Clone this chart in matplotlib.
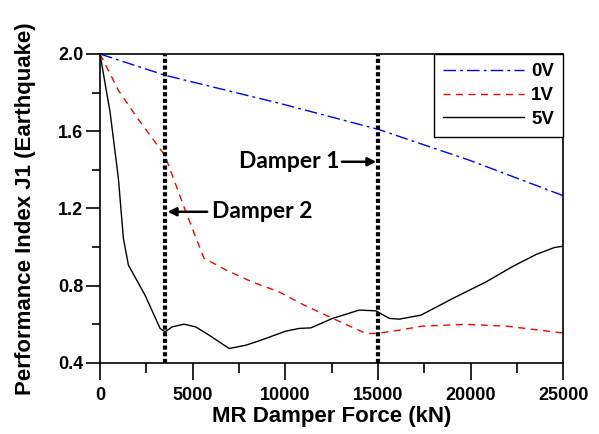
import matplotlib
matplotlib.use('Agg')
from matplotlib import pyplot as plt

plt.rcParams['font.family'] = ['Liberation Sans', 'DejaVu Sans']
plt.rcParams['font.weight'] = 'bold'

# values
x_0v = [0, 3500, 9665, 15000, 19925, 25000]
y_0v = [2.0, 1.89, 1.745, 1.61, 1.45, 1.266]

x_1v = [0, 1000, 2000, 3500, 4600, 5600, 6800, 8200, 9665, 11000, 12545,
        14345, 14900, 16145, 17390, 19760, 22000, 25000]
y_1v = [2.0, 1.81, 1.67, 1.475, 1.19, 0.943, 0.881, 0.82, 0.768, 0.70, 0.631,
        0.553, 0.553, 0.570, 0.591, 0.600, 0.59, 0.555]

x_5v = [0, 250, 540, 990, 1260, 1530, 2430, 3240, 3510, 3890, 4535, 5160,
        5885, 6965, 7865, 8585, 10025, 10745, 11375, 12545, 13985, 14885,
        15600, 16145, 17315, 19025, 20825, 22265, 23525, 24510, 25000]
y_5v = [2.0, 1.86, 1.70, 1.356, 1.045, 0.907, 0.751, 0.579, 0.561, 0.587,
        0.601, 0.587, 0.544, 0.475, 0.492, 0.515, 0.565, 0.579, 0.582, 0.631,
        0.674, 0.670, 0.631, 0.627, 0.648, 0.734, 0.82, 0.90, 0.962, 0.998,
        1.005]

damper_x = [3500, 15000]

fig = plt.figure(figsize=(5.99, 4.34), dpi=100)
ax = fig.add_axes([0.167, 0.1636, 0.7737, 0.712])

ax.plot(x_0v, y_0v, color='blue', lw=1.0, dashes=(9, 3, 2, 3), label='0V')
ax.plot(x_1v, y_1v, color='red', lw=1.0, dashes=(5, 4), label='1V')
ax.plot(x_5v, y_5v, color='black', lw=1.0, label='5V')

for xd in damper_x:
    ax.axvline(xd, color='black', lw=3, dashes=(1, 0.6), zorder=5)

# labels for the damper lines
ax.text(12900, 1.442, 'Damper 1', ha='right', va='center', fontsize=16.5,
        fontweight='bold', family=['Lato', 'DejaVu Sans'])
ax.annotate('', xy=(14900, 1.442), xytext=(13050, 1.442),
            arrowprops=dict(arrowstyle='-|>,head_length=0.5,head_width=0.25',
                            color='black', lw=1.8, shrinkA=0, shrinkB=0))
ax.text(6040, 1.183, 'Damper 2', ha='left', va='center', fontsize=16.5,
        fontweight='bold', family=['Lato', 'DejaVu Sans'])
ax.annotate('', xy=(3650, 1.183), xytext=(5780, 1.183),
            arrowprops=dict(arrowstyle='-|>,head_length=0.5,head_width=0.25',
                            color='black', lw=1.8, shrinkA=0, shrinkB=0))

ax.set_xlim(0, 25000)
ax.set_ylim(0.4, 2.0)
ax.set_xticks([0, 5000, 10000, 15000, 20000, 25000])
ax.set_xticks([2500, 7500, 12500, 17500, 22500], minor=True)
ax.set_yticks([0.4, 0.8, 1.2, 1.6, 2.0])
ax.set_yticks([0.6, 1.0, 1.4, 1.8], minor=True)
ax.tick_params(axis='both', which='major', direction='out', width=1.2,
               labelsize=13)
ax.tick_params(axis='x', which='major', length=12, pad=5)
ax.tick_params(axis='y', which='major', length=10, pad=2)
ax.tick_params(axis='x', which='minor', length=7, width=1.2)
ax.tick_params(axis='y', which='minor', length=6, width=1.2)
for lab in ax.get_xticklabels() + ax.get_yticklabels():
    lab.set_fontweight('bold')
for sp in ax.spines.values():
    sp.set_linewidth(1.2)

ax.set_xlabel('MR Damper Force (kN)', fontsize=16, fontweight='bold', labelpad=2)
ax.set_ylabel('Performance Index J1 (Earthquake)', fontsize=16,
              fontweight='bold', labelpad=16)

leg = ax.legend(loc='upper right', borderaxespad=0, fancybox=False,
                edgecolor='black', framealpha=1, handlelength=4.3,
                prop={'size': 13.5, 'weight': 'bold'}, labelspacing=0.35,
                borderpad=0.5, handletextpad=0.4)
leg.get_frame().set_linewidth(1.0)

fig.savefig('out.png', dpi=100)
